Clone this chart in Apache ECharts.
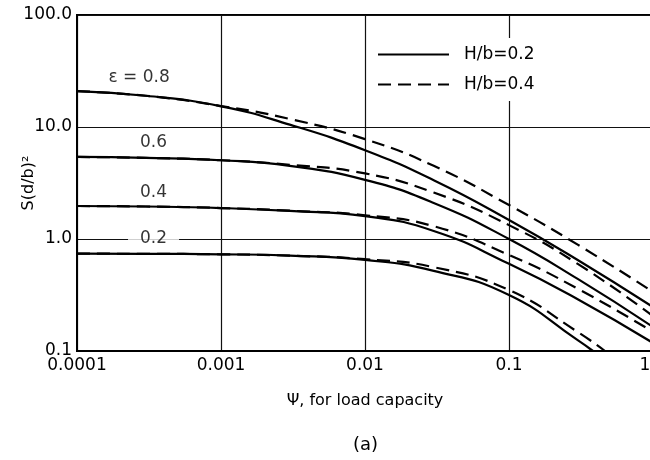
<!DOCTYPE html>
<html>
<head>
<meta charset="utf-8">
<script src="https://cdn.jsdelivr.net/npm/echarts@6/dist/echarts.min.js"></script>
<style>html,body{margin:0;padding:0;background:#fff;}#c{width:650px;height:460px;}</style>
</head>
<body>
<div id="c"></div>
<script>
// ---- data ----
const psi    = [0.0001, 0.0003, 0.001, 0.003, 0.01, 0.03, 0.1, 0.3, 1.0];
const psi02s = [0.0001, 0.0003, 0.001, 0.003, 0.01, 0.03, 0.1, 0.3, 0.383];
const psi02d = [0.0001, 0.0003, 0.001, 0.003, 0.01, 0.03, 0.1, 0.3, 0.464];

const e08_solid  = [20.9, 19.0, 15.3, 10.5, 6.2, 3.35, 1.48, 0.65, 0.247];
const e08_dashed = [20.9, 19.0, 15.4, 11.8, 7.8, 4.5, 2.01, 0.89, 0.337];
const e06_solid  = [5.4, 5.3, 5.05, 4.5, 3.37, 2.1, 1.0, 0.44, 0.164];
const e06_dashed = [5.4, 5.3, 5.05, 4.6, 3.85, 2.6, 1.33, 0.6, 0.205];
const e04_solid  = [1.97, 1.95, 1.89, 1.78, 1.6, 1.18, 0.6, 0.29, 0.118];
const e04_dashed = [1.97, 1.95, 1.89, 1.79, 1.63, 1.3, 0.72, 0.36, 0.148];
const e02_solid  = [0.74, 0.737, 0.73, 0.71, 0.65, 0.52, 0.316, 0.125, 0.1];
const e02_dashed = [0.74, 0.737, 0.73, 0.71, 0.66, 0.56, 0.35, 0.148, 0.1];

const xTickLabels = {0.0001: '0.0001', 0.001: '0.001', 0.01: '0.01', 0.1: '0.1', 1: '1.0'};
const yTickLabels = {0.1: '0.1', 1: '1.0', 10: '10.0', 100: '100.0'};

const curveLabelText = ['\u03b5 = 0.8', '0.6', '0.4', '0.2'];
const curveLabelPsi  = [0.00027, 0.00034, 0.00034, 0.00034];
const curveLabelS    = [27.9, 7.2, 2.58, 1.0];

const legendNames = ['H/b=0.2', 'H/b=0.4'];
// ---------------------------------------

const FONT = 'DejaVu Sans';
const zip = (xs, ys) => xs.map((x, i) => [x, ys[i]]);
const dash = [13, 7];

function curve(name, xs, ys, dashed) {
  return {
    type: 'line', name: name, data: zip(xs, ys),
    symbol: 'none', smooth: 0.5, clip: true,
    itemStyle: {color: '#000'},
    lineStyle: {color: '#000', width: 2.2, type: dashed ? dash : 'solid'},
    emphasis: {disabled: true}, z: 3
  };
}

const series = [
  curve(legendNames[0], psi, e08_solid, false),
  curve(legendNames[1], psi, e08_dashed, true),
  curve(legendNames[0], psi, e06_solid, false),
  curve(legendNames[1], psi, e06_dashed, true),
  curve(legendNames[0], psi, e04_solid, false),
  curve(legendNames[1], psi, e04_dashed, true),
  curve(legendNames[0], psi02s, e02_solid, false),
  curve(legendNames[1], psi02d, e02_dashed, true),
  {
    type: 'scatter', name: 'labels', symbolSize: 0, silent: true, z: 4,
    data: curveLabelText.map((t, i) => ({
      value: [curveLabelPsi[i], curveLabelS[i]], name: t,
      label: i === 3 ? {backgroundColor: '#fff', padding: [2, 12]} : {}
    })),
    label: {
      show: true, position: 'inside', formatter: p => p.name,
      color: '#000', fontFamily: FONT, fontSize: 17
    }
  }
];

const chart = echarts.init(document.getElementById('c'), null, {renderer: 'canvas'});
chart.setOption({
  animation: false,
  backgroundColor: '#fff',
  textStyle: {fontFamily: FONT, color: '#000'},
  grid: {left: 77, right: -3, top: 15, bottom: 109, outerBoundsMode: 'none', containLabel: false,
         show: true, borderColor: '#000', borderWidth: 2, backgroundColor: 'transparent'},
  xAxis: {
    type: 'log', logBase: 10, min: 0.0001, max: 1,
    name: '\u03a8, for load capacity', nameLocation: 'middle', nameGap: 42, nameMoveOverlap: false,
    nameTextStyle: {fontFamily: FONT, fontSize: 16, color: '#000'},
    axisLine: {show: true, lineStyle: {color: '#000', width: 2}},
    axisTick: {show: false},
    axisLabel: {
      fontFamily: FONT, fontSize: 17, color: '#000', margin: 6, showMaxLabel: true, showMinLabel: true,
      formatter: v => xTickLabels[+v.toPrecision(3)] || ''
    },
    splitLine: {show: true, lineStyle: {color: '#111', width: 1.2}},
    minorTick: {show: false}, minorSplitLine: {show: false}
  },
  yAxis: {
    type: 'log', logBase: 10, min: 0.1, max: 100,
    name: 'S(d/b)\u00b2', nameLocation: 'middle', nameGap: 40, nameRotate: 90, nameMoveOverlap: false,
    nameTextStyle: {fontFamily: FONT, fontSize: 16, color: '#000'},
    axisLine: {show: true, lineStyle: {color: '#000', width: 2}},
    axisTick: {show: false},
    axisLabel: {
      fontFamily: FONT, fontSize: 17, color: '#000', margin: 5,
      formatter: v => yTickLabels[+v.toPrecision(3)] || ''
    },
    splitLine: {show: true, lineStyle: {color: '#111', width: 1.2}},
    minorTick: {show: false}, minorSplitLine: {show: false}
  },
  legend: {
    data: legendNames, orient: 'vertical', left: 367, top: 38,
    itemWidth: 71, itemHeight: 14, itemGap: 13,
    backgroundColor: '#fff', padding: [8, 12, 8, 10],
    itemStyle: {opacity: 0},
    textStyle: {fontFamily: FONT, fontSize: 17, color: '#000', padding: [0, 0, 0, 10]},
    selectedMode: false
  },
  graphic: [{
    type: 'text', left: 353, top: 436,
    style: {text: '(a)', font: '18px "DejaVu Sans"', fill: '#000'}
  }],
  series: series
});
</script>
</body>
</html>
